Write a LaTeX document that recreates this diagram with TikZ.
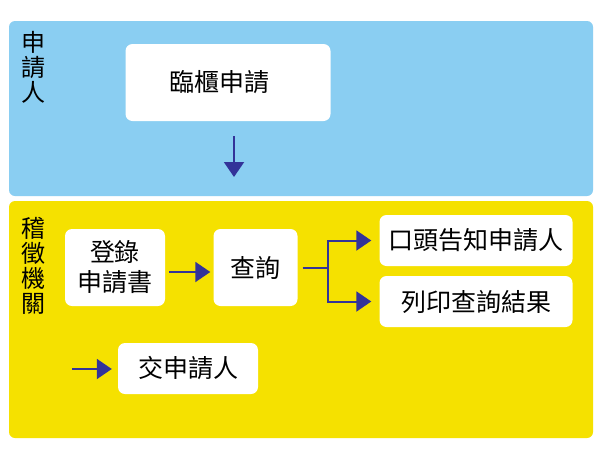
\documentclass[tikz,border=0pt]{standalone}
\usepackage{fontspec}
\setmainfont{Noto Sans CJK TC}
\usetikzlibrary{arrows.meta}
\definecolor{panelblue}{HTML}{8ACEF2}
\definecolor{panelyellow}{HTML}{F5E100}
\definecolor{arrowblue}{HTML}{333399}
\begin{document}
\begin{tikzpicture}[x=1pt,y=-1pt,
  panel/.style={rounded corners=6pt},
  box/.style={fill=white, rounded corners=7pt, inner sep=0pt, font=\fontsize{25}{30}\selectfont, align=center},
  lane/.style={inner sep=0pt, font=\fontsize{24}{25}\selectfont, align=center},
  conn/.style={draw=arrowblue, line width=2pt, -{Triangle[length=15pt,width=20pt]}},
  plain/.style={draw=arrowblue, line width=2pt}]
\useasboundingbox (0,0) rectangle (600,453);
\fill[white] (0,0) rectangle (600,453);
\fill[panelblue, panel] (9,21) rectangle (593,196);
\fill[panelyellow, panel] (9,201) rectangle (593,438);
\node[lane, anchor=north] (la) at (33,31) {申\\請\\人};
\node[lane, anchor=north] (lb) at (33,217) {稽\\徵\\機\\關};
\node[box, minimum width=205pt, minimum height=77pt] (rin) at (228,82.5) {\hspace*{-18pt}臨櫃申請};
\coordinate (downend) at (234,177);
\node[box, minimum width=100pt, minimum height=77pt] (reg) at (115,267.5) {登錄\\申請書};
\node[box, minimum width=84pt, minimum height=77pt] (qry) at (255.5,267.5) {查詢};
\node[box, minimum width=193pt, minimum height=51pt] (oral) at (476,240.5) {口頭告知申請人};
\node[box, minimum width=193pt, minimum height=51pt] (prt) at (476,301.5) {列印查詢結果};
\node[box, minimum width=140pt, minimum height=51pt] (give) at (188,368.5) {交申請人};
\coordinate (givestart) at (72,369);
\coordinate (split) at (328,268);
\draw[conn, shorten <=15pt] (rin.south -| downend) -- (downend);
\draw[conn, shorten <=4pt, shorten >=3pt] (reg.east |- 0,272) -- (qry.west |- 0,272);
\draw[plain, shorten <=5pt] (qry.east |- split) -- (split);
\draw[conn, shorten >=8pt] (split) |- (oral.west);
\draw[conn, shorten >=8pt] (split) |- (prt.west);
\draw[conn, shorten >=6pt] (givestart) -- (give.west |- givestart);
\end{tikzpicture}
\end{document}
